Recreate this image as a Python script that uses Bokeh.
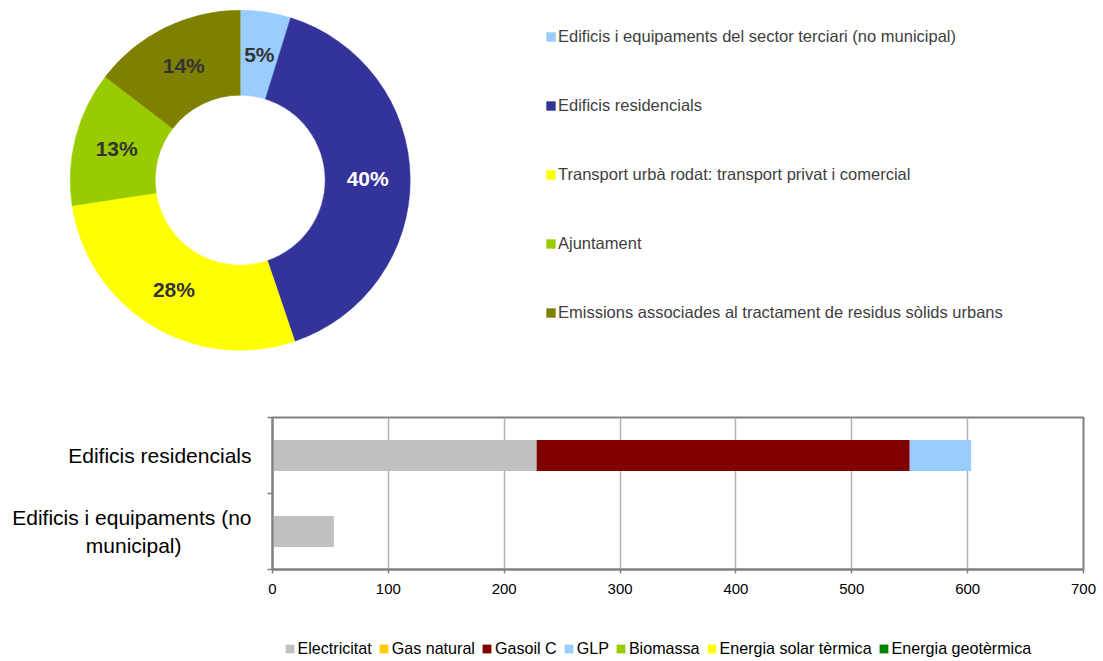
import math
from bokeh.plotting import figure
from bokeh.models import (Range1d, ColumnDataSource, Legend, LegendItem, FixedTicker,
                          Label, LinearAxis, Grid)
from bokeh.layouts import column
from bokeh.embed import file_html
from bokeh.resources import INLINE
from bokeh.core.properties import value

# ---------------- data ----------------
sectors = [
    "Edificis i equipaments del sector terciari (no municipal)",
    "Edificis residencials",
    "Transport urbà rodat: transport privat i comercial",
    "Ajuntament",
    "Emissions associades al tractament de residus sòlids urbans",
]
shares = [4.8, 40.0, 27.8, 12.8, 14.6]
share_labels = ["5%", "40%", "28%", "13%", "14%"]
sector_colors = ["#99ccff", "#333399", "#ffff00", "#99cc00", "#808000"]
share_label_colors = ["#333333", "#ffffff", "#333333", "#333333", "#333333"]

NB = "\u00a0"
bar_categories = ["Edificis residencials", "Edificis i equipaments (no\nmunicipal)" + NB * 12]
fuels = ["Electricitat", "Gas natural", "Gasoil C", "GLP", "Biomassa",
         "Energia solar tèrmica", "Energia geotèrmica"]
fuel_colors = ["#c0c0c0", "#ffcc00", "#800000", "#99ccff", "#99cc00", "#ffff00", "#008000"]
electricitat = [228, 53]
gas_natural = [0, 0]
gasoil_c = [322, 0]
glp = [53, 0]
biomassa = [0, 0]
solar_termica = [0, 0]
geotermica = [0, 0]
x_ticks = [0, 100, 200, 300, 400, 500, 600, 700]
x_label = "MWh"

FONT_NAME = "Liberation Sans"
FONT = value(FONT_NAME)
W = 1103
H1 = 395
H2 = 216
H3 = 661 - H1 - H2

# ---------------- donut ----------------
top = figure(width=W, height=H1, x_range=Range1d(0, W), y_range=Range1d(0, H1),
             output_backend="svg", toolbar_location=None, min_border=0,
             x_axis_type=None, y_axis_type=None, outline_line_color=None,
             frame_align=False)

cx, cy = 239.7, H1 - 179.7
r_in, r_out = 85, 170
total = sum(shares)
starts, ends, lx, ly = [], [], [], []
acc = 0.0
for s in shares:
    a0 = math.pi / 2 - 2 * math.pi * acc / total
    acc += s
    a1 = math.pi / 2 - 2 * math.pi * acc / total
    starts.append(a0)
    ends.append(a1)
    m = (a0 + a1) / 2
    rm = (r_in + r_out) / 2
    lx.append(cx + rm * math.cos(m))
    ly.append(cy + rm * math.sin(m))

dsrc = ColumnDataSource(dict(x=[cx] * len(shares), y=[cy] * len(shares), start=starts, end=ends,
                             color=sector_colors, name=sectors))
wedges = top.annular_wedge(x="x", y="y", inner_radius=r_in, outer_radius=r_out,
                           start_angle="start", end_angle="end", direction="clock",
                           fill_color="color", line_color="color", line_width=0.5, source=dsrc)

lsrc = ColumnDataSource(dict(x=lx, y=ly, t=share_labels, c=share_label_colors))
top.text(x="x", y="y", text="t", text_color="c", source=lsrc, text_align="center",
         text_baseline="middle", text_font=FONT, text_font_style="bold", text_font_size="21px")

legend1 = Legend(items=[LegendItem(label=sectors[i], renderers=[wedges], index=i) for i in range(len(sectors))],
                 location=(545, 73), orientation="vertical", glyph_width=11, glyph_height=11,
                 label_height=20, spacing=49, label_standoff=2, padding=0, margin=0,
                 border_line_color=None, background_fill_alpha=0,
                 label_text_font=FONT_NAME, label_text_font_size="16.5px", label_text_color="#404040")
top.add_layout(legend1)

# ---------------- bars ----------------
bar = figure(width=W, height=H2, x_range=Range1d(0, 700), y_range=Range1d(0, len(bar_categories)),
             output_backend="svg", toolbar_location=None,
             min_border_left=272, min_border_right=20, min_border_top=22, min_border_bottom=42,
             x_axis_type=None, y_axis_type=None, frame_align=False)
bar.outline_line_color = "#808080"
bar.outline_line_width = 2

n = len(bar_categories)
ypos = [n - i - 0.5 for i in range(n)]
bsrc = ColumnDataSource(dict(y=ypos, **{
    fuels[0]: electricitat, fuels[1]: gas_natural, fuels[2]: gasoil_c, fuels[3]: glp,
    fuels[4]: biomassa, fuels[5]: solar_termica, fuels[6]: geotermica}))
bar.hbar_stack(fuels, y="y", height=0.41, color=fuel_colors, line_color=None, source=bsrc)

xaxis = LinearAxis(ticker=FixedTicker(ticks=x_ticks, minor_ticks=[]))
xaxis.axis_line_color = "#808080"
xaxis.axis_line_width = 2
xaxis.major_tick_out = 4
xaxis.major_tick_in = 0
xaxis.major_tick_line_color = "#808080"
xaxis.major_tick_line_width = 1.5
xaxis.major_label_standoff = 10
xaxis.major_label_text_font = FONT_NAME
xaxis.major_label_text_font_size = "15px"
xaxis.major_label_text_color = "#000000"
bar.add_layout(xaxis, "below")

yaxis = LinearAxis(ticker=FixedTicker(ticks=sorted(ypos), minor_ticks=list(range(n + 1))))
yaxis.major_label_overrides = {yp: c for yp, c in zip(ypos, bar_categories)}
yaxis.axis_line_color = "#808080"
yaxis.axis_line_width = 2
yaxis.major_tick_out = 0
yaxis.major_tick_in = 0
yaxis.minor_tick_out = 5
yaxis.minor_tick_in = 0
yaxis.minor_tick_line_color = "#808080"
yaxis.minor_tick_line_width = 1.5
yaxis.major_label_standoff = 16
yaxis.major_label_text_font = FONT_NAME
yaxis.major_label_text_font_size = "21px"
yaxis.major_label_text_color = "#000000"
bar.add_layout(yaxis, "left")

bar.add_layout(Grid(dimension=0, ticker=FixedTicker(ticks=x_ticks, minor_ticks=[]),
                    grid_line_color="#b3b3b3", grid_line_width=1.5))

bar.add_layout(Label(x=405.5, y=-35, x_units="screen", y_units="screen", text=x_label,
                     text_align="center", text_baseline="top", text_font=FONT_NAME,
                     text_font_size="15px", text_color="#000000"))

# ---------------- bottom legend ----------------
leg = figure(width=W, height=H3, x_range=Range1d(0, 1), y_range=Range1d(0, 1),
             output_backend="svg", toolbar_location=None, min_border=0,
             x_axis_type=None, y_axis_type=None, outline_line_color=None,
             frame_align=False)
leg_rs = [leg.hbar(y=[-5], left=[0], right=[1], height=1, fill_color=c, line_color=None)
          for c in fuel_colors]
legend2 = Legend(items=[LegendItem(label=f, renderers=[r]) for f, r in zip(fuels, leg_rs)],
                 location=(283.5, 3.5), orientation="horizontal", glyph_width=11, glyph_height=11,
                 label_height=16, spacing=6, label_standoff=3, padding=0, margin=0,
                 border_line_color=None, background_fill_alpha=0,
                 label_text_font=FONT_NAME, label_text_font_size="16.1px", label_text_color="#000000")
leg.add_layout(legend2)

layout = column(top, bar, leg)
open("out.html", "w").write(file_html(layout, INLINE))
